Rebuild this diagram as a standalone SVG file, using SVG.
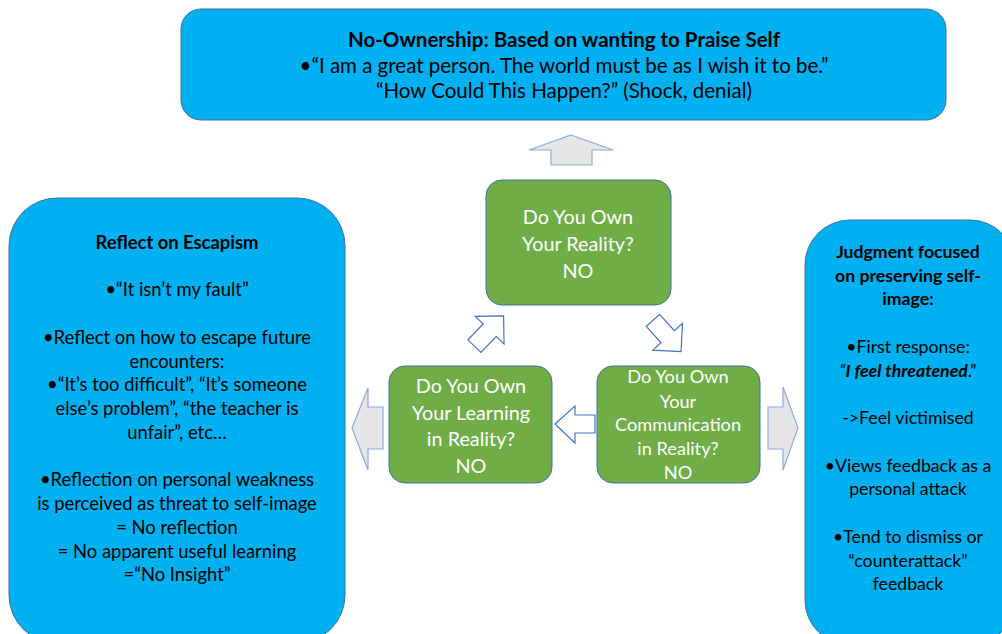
<svg xmlns="http://www.w3.org/2000/svg" width="1002" height="634" viewBox="0 0 1002 634">
<style>
.blue{fill:#00b0f0;stroke:#41719c;stroke-width:1}
.green{fill:#70ad47;stroke:#41719c;stroke-width:1}
.t{font-family:Lato,"Liberation Sans",sans-serif;font-size:18.4px;fill:#000;text-anchor:middle}
.tt{font-size:20.5px}
.tr{font-size:17.7px}
.b{font-weight:bold}
.g{font-family:Lato,"Liberation Sans",sans-serif;font-size:19.8px;fill:#fff;text-anchor:middle}
.gc{font-size:18.2px}
.gray{fill:#e7e6e6;stroke:#8faadc;stroke-width:1.2}
.wa{fill:#fff;stroke:#4472c4;stroke-width:1.2}
</style>
<rect width="1002" height="634" fill="#fff"/>
<g id="top">
<rect class="blue" x="181" y="9" width="765" height="111" rx="20"/>
<text class="t tt b" x="564" y="47">No-Ownership: Based on wanting to Praise Self</text>
<text class="t tt" x="564" y="73">•“I am a great person. The world must be as I wish it to be.”</text>
<text class="t tt" x="564" y="98">“How Could This Happen?” (Shock, denial)</text>
</g>
<g id="left">
<rect class="blue" x="9" y="198" width="336" height="445" rx="48"/>
<text class="t b" x="177" y="249">Reflect on Escapism</text>
<text class="t" x="177" y="296">•“It isn’t my fault”</text>
<text class="t" x="177" y="344">•Reflect on how to escape future</text>
<text class="t" x="177" y="368">encounters:</text>
<text class="t" x="177" y="391">•“It’s too difficult”, “It’s someone</text>
<text class="t" x="177" y="415">else’s problem”, “the teacher is</text>
<text class="t" x="177" y="439">unfair”, etc…</text>
<text class="t" x="177" y="486">•Reflection on personal weakness</text>
<text class="t" x="177" y="510">is perceived as threat to self-image</text>
<text class="t" x="177" y="534">= No reflection</text>
<text class="t" x="177" y="558">= No apparent useful learning</text>
<text class="t" x="177" y="581">=“No Insight”</text>
</g>
<g id="right">
<rect class="blue" x="805" y="220" width="210" height="425" rx="45"/>
<text class="t tr b" x="908" y="258">Judgment focused</text>
<text class="t tr b" x="908" y="282">on preserving self-</text>
<text class="t tr b" x="908" y="305">image:</text>
<text class="t tr" x="908" y="353">•First response:</text>
<text class="t tr" x="908" y="377"><tspan font-style="italic">“</tspan><tspan font-style="italic" font-weight="bold">I feel threatened</tspan>.”</text>
<text class="t tr" x="908" y="424">-&gt;Feel victimised</text>
<text class="t tr" x="908" y="472">•Views feedback as a</text>
<text class="t tr" x="908" y="495">personal attack</text>
<text class="t tr" x="908" y="543">•Tend to dismiss or</text>
<text class="t tr" x="908" y="567">“counterattack”</text>
<text class="t tr" x="908" y="590">feedback</text>
</g>
<g id="reality">
<rect class="green" x="486" y="180" width="185" height="125" rx="16"/>
<text class="g" x="578" y="224">Do You Own</text>
<text class="g" x="578" y="251">Your Reality?</text>
<text class="g" x="578" y="278">NO</text>
</g>
<g id="learning">
<rect class="green" x="389" y="366" width="163" height="117" rx="16"/>
<text class="g" x="471" y="393">Do You Own</text>
<text class="g" x="471" y="420">Your Learning</text>
<text class="g" x="471" y="446">in Reality?</text>
<text class="g" x="471" y="473">NO</text>
</g>
<g id="communication">
<rect class="green" x="597" y="366" width="163" height="117" rx="16"/>
<text class="g gc" x="678" y="383">Do You Own</text>
<text class="g gc" x="678" y="408">Your</text>
<text class="g gc" x="678" y="431">Communication</text>
<text class="g gc" x="678" y="455">in Reality?</text>
<text class="g gc" x="678" y="479">NO</text>
</g>
<g id="connectors">
<polygon class="gray" points="571,135 613,150 592,150 592,165 551,165 551,150 529,150"/>
<polygon class="gray" points="352,428 368,388 368,407 383,407 383,449 368,449 368,470"/>
<polygon class="gray" points="798,428 783,387 783,407 768,407 768,449 783,449 783,470"/>
<polygon class="wa" points="555,424 575,406 575,415 595,415 595,433 575,433 575,443"/>
<polygon class="wa" transform="translate(489,331) rotate(-46)" points="21,0 1,-20 1,-9 -21,-9 -21,9 1,9 1,20"/>
<polygon class="wa" transform="translate(667,336) rotate(48)" points="21,0 1,-20 1,-9 -21,-9 -21,9 1,9 1,20"/>
</g>
</svg>
